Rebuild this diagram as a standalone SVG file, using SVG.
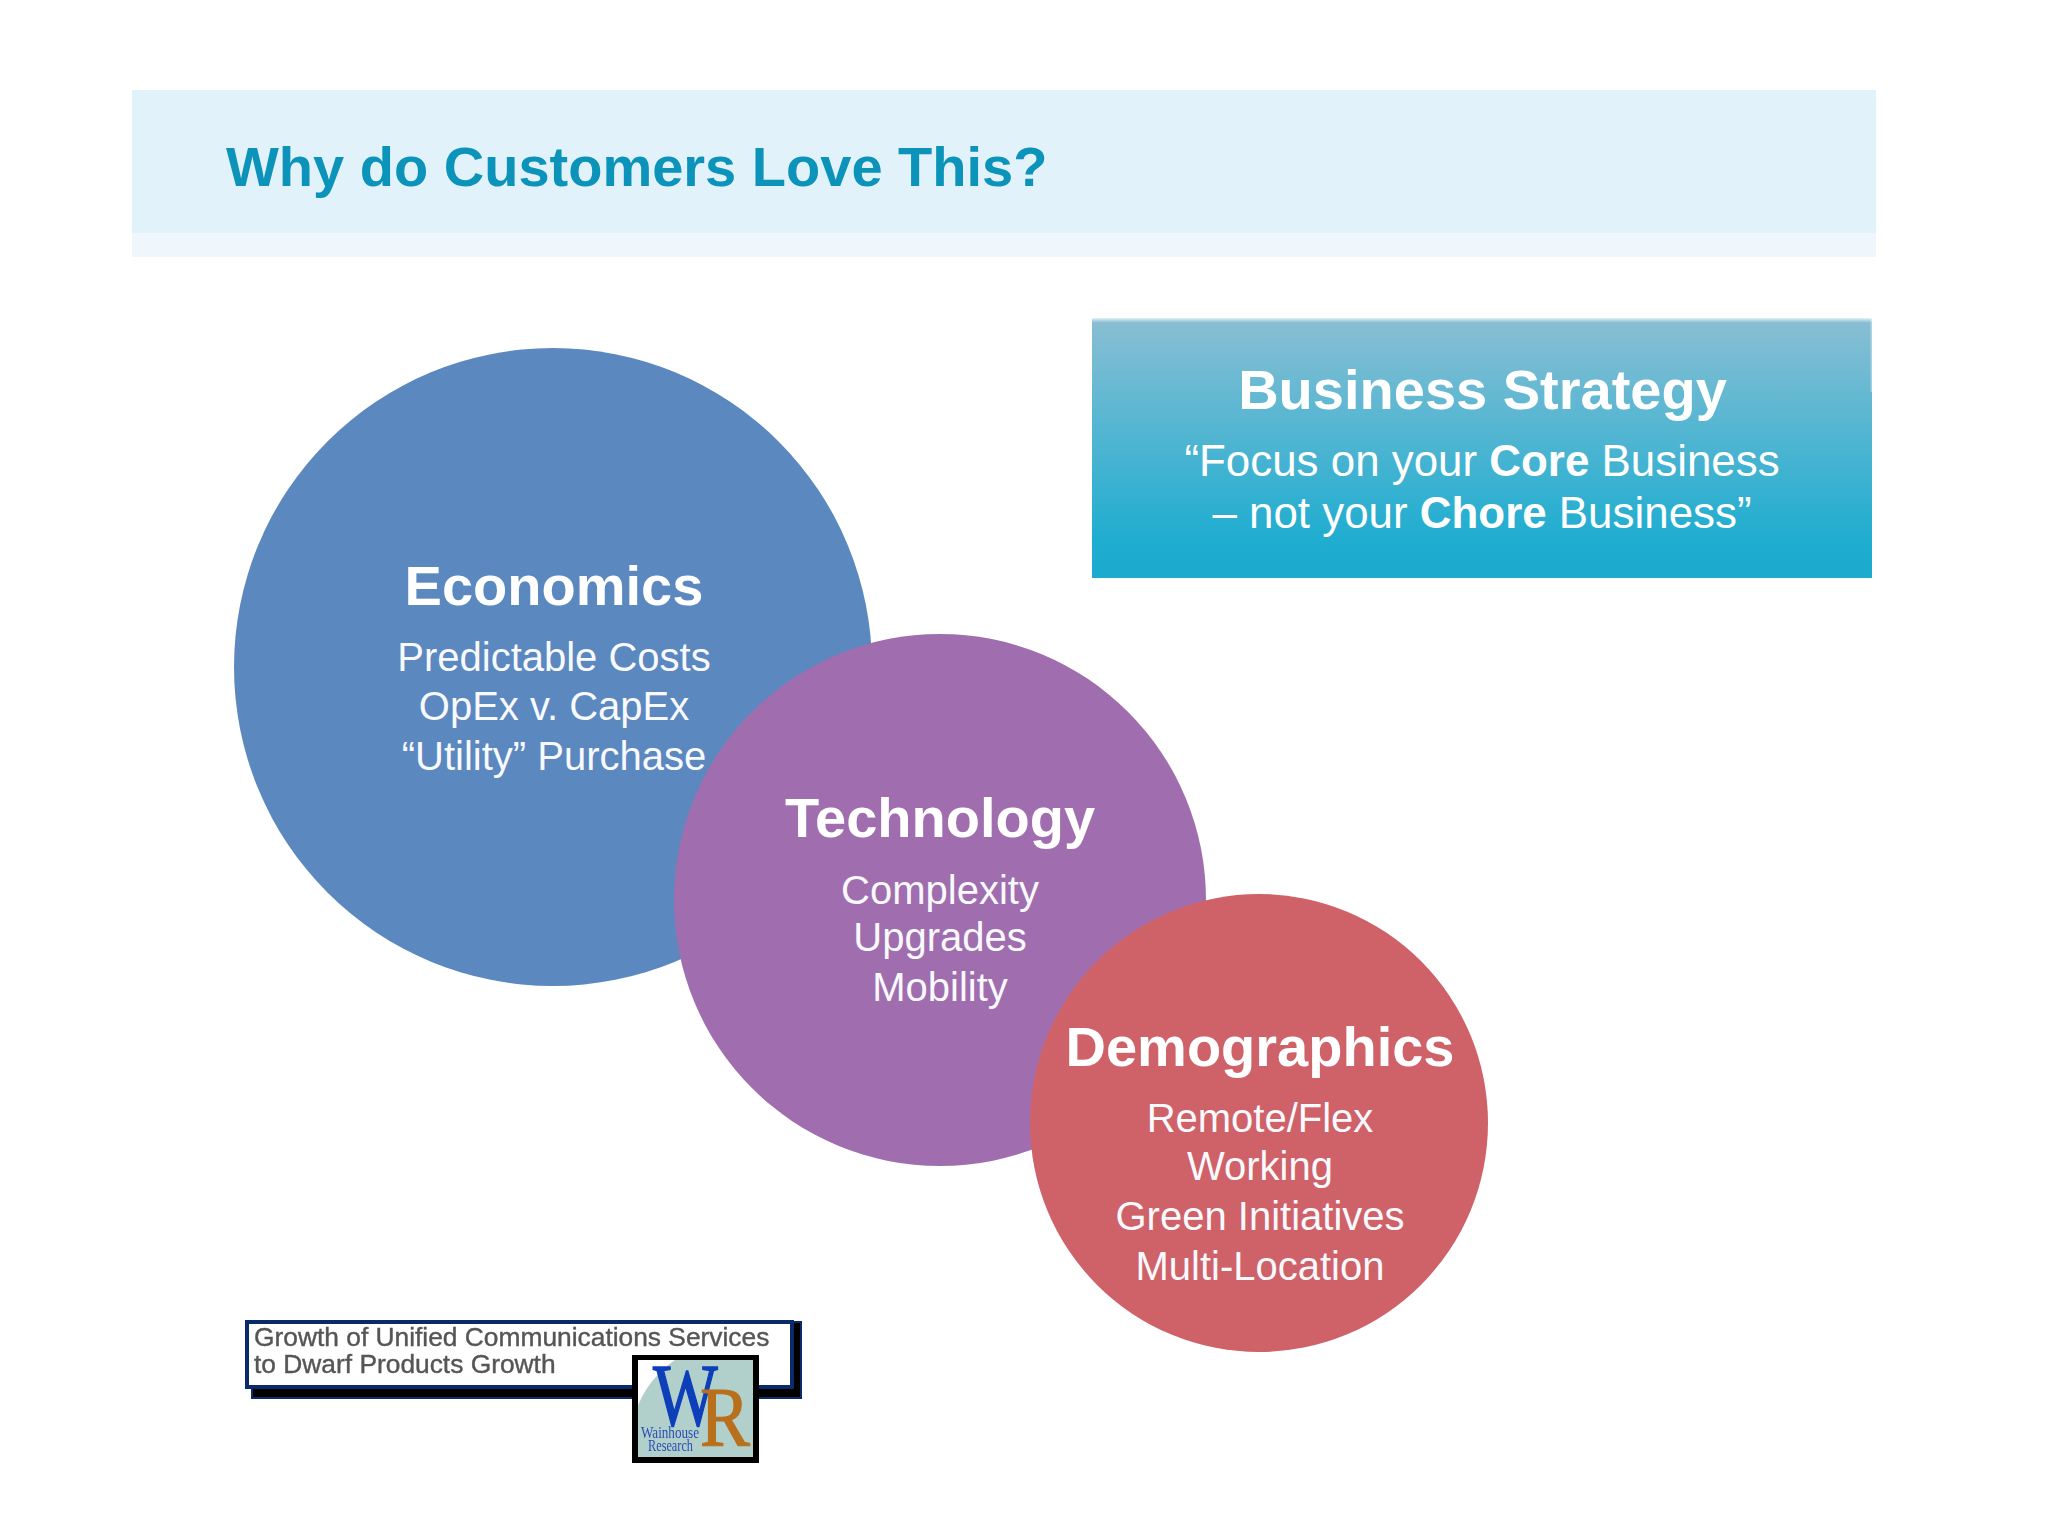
<svg xmlns="http://www.w3.org/2000/svg" width="2048" height="1536" viewBox="0 0 2048 1536">
<style>
text{font-family:"Liberation Sans",Arial,sans-serif}
.h{font-weight:700;font-size:56px;fill:#fff;text-anchor:middle}
.b{font-size:40px;fill:#f8f9fd;text-anchor:middle}
.q{font-size:43.9px;fill:#fff;text-anchor:middle}
.q tspan{font-weight:700}
.g{font-size:26.35px;fill:#555;stroke:#555;stroke-width:.4}
.serif{font-family:"Liberation Serif","Times New Roman",serif}
</style>
<defs>
<linearGradient id="bs" x1="0" y1="0" x2="0" y2="1">
<stop offset="0" stop-color="#e4f1f6"/><stop offset="0.018" stop-color="#88bed3"/><stop offset="0.85" stop-color="#1fadd0"/><stop offset="1" stop-color="#1babcf"/>
</linearGradient>
<filter id="soft" x="-5%" y="-5%" width="110%" height="110%"><feGaussianBlur stdDeviation="0.6"/></filter>
<clipPath id="lg"><rect x="638" y="1360" width="115" height="97"/></clipPath>
</defs>
<rect width="2048" height="1536" fill="#fff"/>
<g id="header">
<rect x="132" y="90" width="1744" height="167" fill="#eff6fc"/>
<rect x="132" y="90" width="1744" height="143" fill="#e2f2fa"/>
<text x="226" y="186" font-size="56" font-weight="700" fill="#0c93b9">Why do Customers Love This?</text>
</g>
<g id="business-strategy">
<rect x="1092" y="318" width="780" height="260" fill="url(#bs)"/>
<rect x="1870.500" y="318" width="1.500" height="74" fill="#fff" opacity=".35"/>
<text class="h" x="1482.500" y="409">Business Strategy</text>
<text class="q" x="1482" y="476">“Focus on your <tspan>Core</tspan> Business</text>
<text class="q" x="1482" y="528">– not your <tspan>Chore</tspan> Business”</text>
</g>
<g id="economics">
<circle cx="553" cy="667" r="319" fill="#5b88bf"/>
<text class="h" x="554" y="605">Economics</text>
<text class="b" x="554" y="671">Predictable Costs</text>
<text class="b" x="554" y="720">OpEx v. CapEx</text>
<text class="b" x="554" y="770">“Utility” Purchase</text>
</g>
<g id="technology">
<circle cx="940" cy="900" r="266" fill="#a06eae"/>
<text class="h" x="940" y="837">Technology</text>
<text class="b" x="940" y="904">Complexity</text>
<text class="b" x="940" y="951">Upgrades</text>
<text class="b" x="940" y="1001">Mobility</text>
</g>
<g id="demographics">
<circle cx="1259" cy="1123" r="229" fill="#cf6268"/>
<text class="h" x="1260" y="1066">Demographics</text>
<text class="b" x="1260" y="1132">Remote/Flex</text>
<text class="b" x="1260" y="1180">Working</text>
<text class="b" x="1260" y="1230">Green Initiatives</text>
<text class="b" x="1260" y="1280">Multi-Location</text>
</g>
<g id="growth-callout">
<rect x="252" y="1322" width="549" height="76" fill="#000" stroke="#0a2a6b" stroke-width="2"/>
<rect x="247" y="1322" width="545" height="65" fill="#fff" stroke="#0a2a6b" stroke-width="4"/>
<g filter="url(#soft)">
<text class="g" x="254" y="1346">Growth of Unified Communications Services</text>
<text class="g" x="254" y="1373">to Dwarf Products Growth</text>
</g>
</g>
<g id="logo">
<rect x="632" y="1355" width="127" height="108" fill="#000"/>
<rect x="638" y="1360" width="115" height="97" fill="#fff"/>
<circle cx="733" cy="1445" r="103" fill="#b1d0cc" clip-path="url(#lg)"/>
<g filter="url(#soft)">
<text class="serif" transform="translate(653 1425) scale(.77 1)" font-size="89" fill="#0f3fb8" stroke="#0f3fb8" stroke-width="1.500">W</text>
<text class="serif" transform="translate(700 1446) scale(.88 1)" font-size="85" fill="#b8701f" stroke="#b8701f" stroke-width="1.200">R</text>
<text class="serif" x="641" y="1438" font-size="17" fill="#2a4db0" textLength="58" lengthAdjust="spacingAndGlyphs">Wainhouse</text>
<text class="serif" x="648" y="1451" font-size="17" fill="#2a4db0" textLength="45" lengthAdjust="spacingAndGlyphs">Research</text>
</g>
</g>
</svg>
